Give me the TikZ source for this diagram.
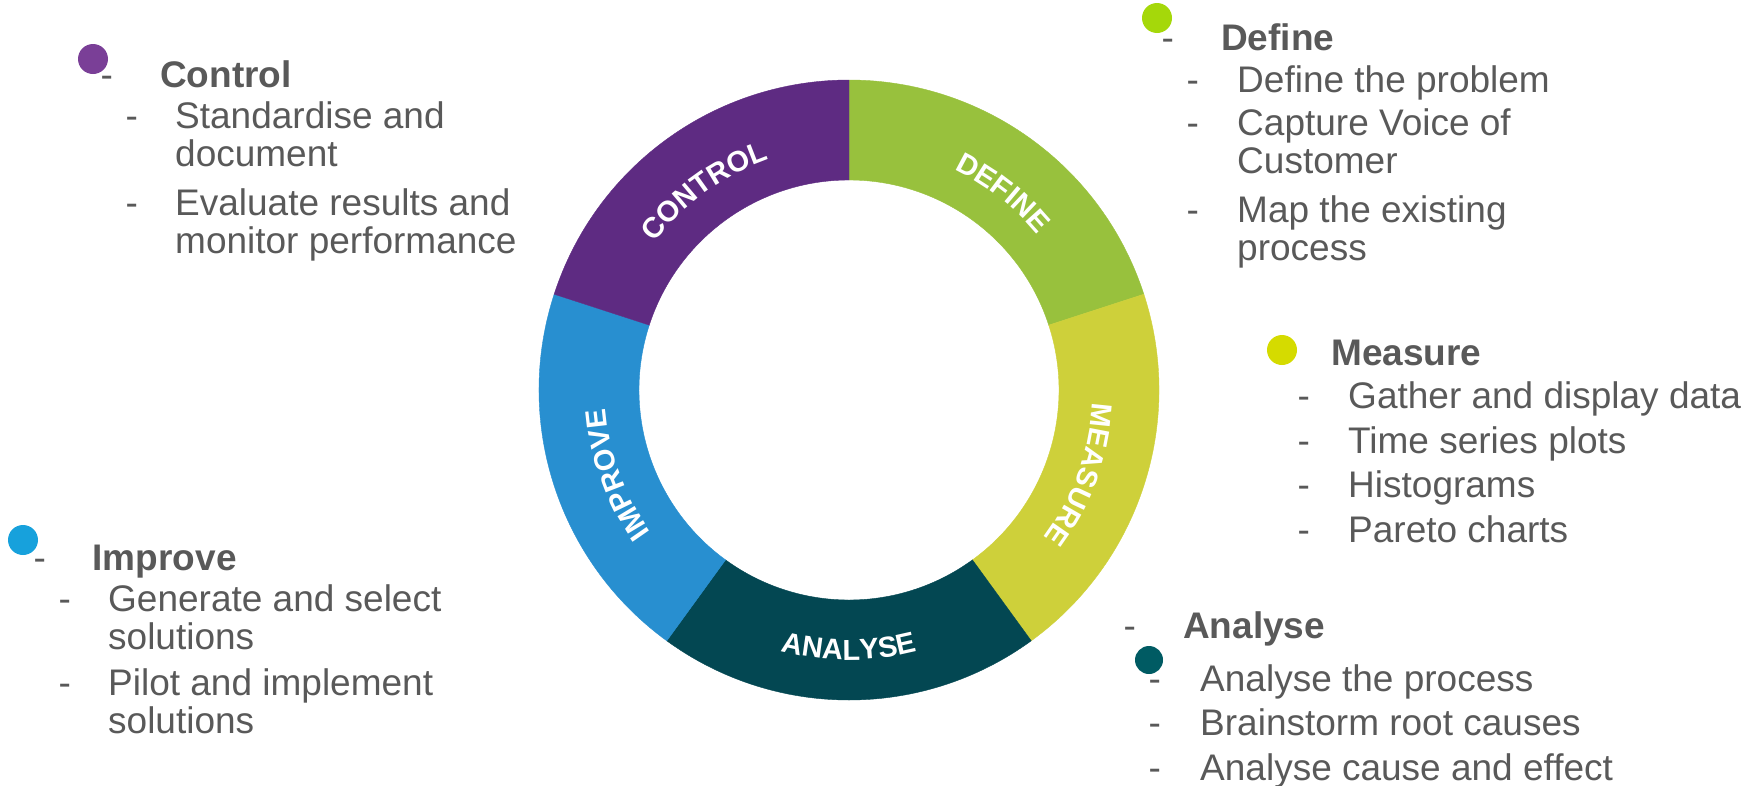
\documentclass[tikz,border=0pt]{standalone}
\usepackage{fontspec}
\setmainfont{Liberation Sans}
\usetikzlibrary{decorations.text}

\definecolor{ctlPurple}{HTML}{5E2B82}
\definecolor{defGreen}{HTML}{98C13D}
\definecolor{meaYellow}{HTML}{CED03A}
\definecolor{anaTeal}{HTML}{034752}
\definecolor{impBlue}{HTML}{288FD0}
\definecolor{ctlDot}{HTML}{7A3F97}
\definecolor{defDot}{HTML}{A5D80A}
\definecolor{meaDot}{HTML}{D5DB00}
\definecolor{anaDot}{HTML}{005B63}
\definecolor{impDot}{HTML}{17A1DC}
\definecolor{txtGray}{HTML}{595959}

\newcommand\bodyfont{\fontsize{37}{38.5}\selectfont}
\newcommand\ringfont{\fontsize{29}{29}\selectfont\bfseries}
% lines of one bullet, baseline on the first one
\newcommand\bulletlines[1]{\begin{tabular}[t]{@{}l@{}}#1\end{tabular}}

\tikzset{
	itemtxt/.style={anchor=base west, inner sep=0pt, text=txtGray, font=\bodyfont},
	headtxt/.style={itemtxt, font=\bodyfont\bfseries},
	hyph/.style={itemtxt},
	ringlabel/.style={decorate, decoration={text along path, text align=center,
		text color=white, text={|\ringfont|#1}}}
}

\begin{document}
\begin{tikzpicture}[x=1pt, y=1pt]
		\useasboundingbox (0,0) rectangle (1756,-785);
		\coordinate (hub) at (849,-390);
		
		% the five phases round the ring
		\begin{scope}[shift={(hub)}]
			\foreach \a/\col in {18/defGreen, -54/meaYellow, -126/anaTeal, 162/impBlue, 90/ctlPurple} {
				\fill[\col, draw=\col, line width=0.4pt] (\a:310) arc[start angle=\a, end angle=\a+72, radius=310]
					-- (\a+72:210) arc[start angle=\a+72, end angle=\a, radius=210] -- cycle;
			}
			\path[ringlabel=CONTROL] (156:244) arc[start angle=156, end angle=96, radius=244];
			\path[ringlabel=DEFINE] (82:244) arc[start angle=82, end angle=22, radius=244];
			\path[ringlabel=MEASURE] (10:244) arc[start angle=10, end angle=-50, radius=244];
			\path[ringlabel=IMPROVE] (230:244) arc[start angle=230, end angle=170, radius=244];
			\path[ringlabel=ANALYSE] (-120:270) arc[start angle=-120, end angle=-60, radius=270];
		\end{scope}
		
		% control
		\node[hyph] (ctl-hy) at (100.5,-87) {-};
		\node[headtxt] (ctl) at (160,-87) {Control};
		\foreach \y/\txt [count=\i] in {128/{Standardise and\\document}, 215/{Evaluate results and\\monitor performance}} {
			\node[hyph] (ctl-hy\i) at (125.5,-\y) {-};
			\node[itemtxt] (ctl-\i) at (175,-\y) {\bulletlines{\txt}};
		}
		\fill[ctlDot] (93,-59) circle (15);
		
		% define
		\node[hyph] (def-hy) at (1161.5,-50) {-};
		\node[headtxt] (def) at (1221,-50) {Define};
		\foreach \y/\txt [count=\i] in {92/{Define the problem}, 135/{Capture Voice of\\Customer}, 222/{Map the existing\\process}} {
			\node[hyph] (def-hy\i) at (1186.5,-\y) {-};
			\node[itemtxt] (def-\i) at (1237,-\y) {\bulletlines{\txt}};
		}
		\fill[defDot] (1157,-18) circle (15);
		
		% measure
		\node[headtxt] (mea) at (1331,-365) {Measure};
		\foreach \y/\txt [count=\i] in {408/{Gather and display data}, 453/{Time series plots}, 497/{Histograms}, 542/{Pareto charts}} {
			\node[hyph] (mea-hy\i) at (1297.5,-\y) {-};
			\node[itemtxt] (mea-\i) at (1348,-\y) {\txt};
		}
		\fill[meaDot] (1282,-350) circle (15);
		
		% analyse
		\node[hyph] (ana-hy) at (1123.5,-638) {-};
		\node[headtxt] (ana) at (1183,-638) {Analyse};
		\foreach \y/\txt [count=\i] in {691/{Analyse the process}, 735/{Brainstorm root causes}, 780/{Analyse cause and effect}} {
			\node[hyph] (ana-hy\i) at (1148.5,-\y) {-};
			\node[itemtxt] (ana-\i) at (1200,-\y) {\txt};
		}
		\fill[anaDot] (1149,-660) circle (14);
		
		% improve
		\node[hyph] (imp-hy) at (33.5,-570) {-};
		\node[headtxt] (imp) at (92.5,-570) {Improve};
		\foreach \y/\txt [count=\i] in {611/{Generate and select\\solutions}, 695/{Pilot and implement\\solutions}} {
			\node[hyph] (imp-hy\i) at (58.5,-\y) {-};
			\node[itemtxt] (imp-\i) at (108,-\y) {\bulletlines{\txt}};
		}
		\fill[impDot] (23,-540) circle (15);
	\end{tikzpicture}
\end{document}
